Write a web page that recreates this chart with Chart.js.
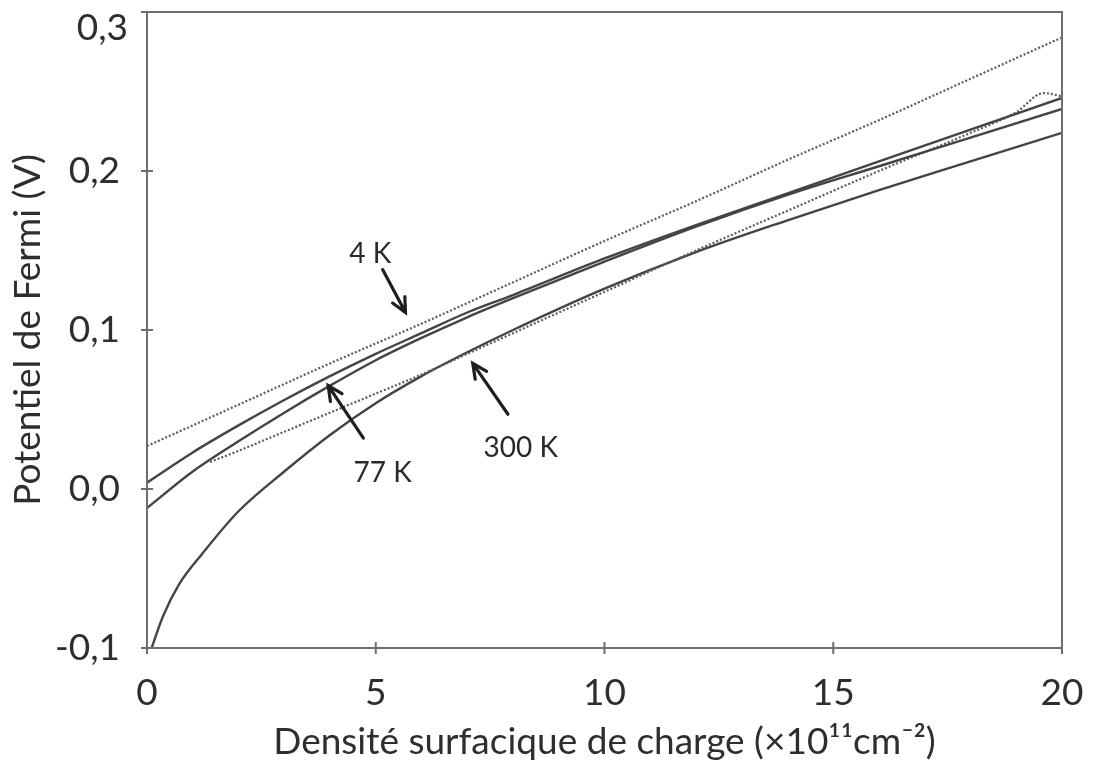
<!DOCTYPE html>
<html>
<head>
<meta charset="utf-8">
<title>Potentiel de Fermi</title>
<script src="https://cdn.jsdelivr.net/npm/chart.js@4/dist/chart.umd.min.js"></script>
<style>
  html, body { margin: 0; padding: 0; background: #fff; }
  #box { width: 1094px; height: 769px; }
</style>
</head>
<body>
<div id="box"><canvas id="fermi"></canvas></div>
<script>
// densité de charge (x10^11 cm-2) et potentiel de Fermi (V) pour chaque courbe
const xA = [0, 2, 4, 6, 8, 10, 12, 14, 16, 18, 20]
const yA = [0.027, 0.053, 0.079, 0.104, 0.130, 0.156, 0.181, 0.207, 0.232, 0.258, 0.284]

const xB = [0, 1, 2, 3, 4, 5, 6, 7, 8, 10, 12, 14, 16, 18, 20]
const yB = [0.004, 0.023, 0.040, 0.056, 0.071, 0.085, 0.098, 0.111, 0.122, 0.145, 0.166, 0.186, 0.206, 0.226, 0.246]

const xC = [0, 1, 2, 3, 4, 5, 6, 7, 8, 10, 12, 14, 16, 18, 20]
const yC = [-0.012, 0.011, 0.030, 0.048, 0.065, 0.081, 0.095, 0.108, 0.120, 0.143, 0.165, 0.185, 0.203, 0.221, 0.239]

const xD = [1.38, 2, 3, 4, 5, 6, 7, 8, 10, 12, 14, 16, 18, 19, 19.6, 20]
const yD = [0.017, 0.024, 0.036, 0.048, 0.060, 0.072, 0.085, 0.098, 0.124, 0.150, 0.175, 0.200, 0.224, 0.237, 0.249, 0.247]

const xE = [0.1, 0.35, 0.7, 1.2, 2, 3, 4, 5, 6, 7, 8, 10, 12, 14, 16, 18, 20]
const yE = [-0.1, -0.080, -0.060, -0.041, -0.014, 0.011, 0.034, 0.054, 0.071, 0.086, 0.100, 0.126, 0.149, 0.169, 0.188, 0.206, 0.224]

const xTicks = [0, 5, 10, 15, 20]
const yTicks = [-0.1, 0, 0.1, 0.2, 0.3]

// étiquettes des températures : texte, position du texte, queue et pointe de la flèche
const tempLabels = ['4 K', '77 K', '300 K']
const labelPos = [[4.88, 0.148], [5.15, 0.010], [8.17, 0.026]]
const arrowTail = [[5.15, 0.138], [4.73, 0.032], [7.89, 0.047]]
const arrowTip = [[5.65, 0.111], [3.96, 0.065], [7.12, 0.079]]

const pts = (xs, ys) => xs.map((x, i) => ({ x: x, y: ys[i] }))
const fmt = v => v.toFixed(1).replace('.', ',')

const FONT = 'Lato, "Open Sans", sans-serif'
const TEXT = '#2e2e2e'
const yMax = 0.3

const solid = (data) => ({
  data: data,
  borderColor: '#444',
  borderWidth: 2.4,
  pointRadius: 0,
  cubicInterpolationMode: 'monotone',
  fill: false
})
const dotted = (data) => ({
  data: data,
  borderColor: '#5c5c5c',
  borderWidth: 2.2,
  borderDash: [2, 2],
  pointRadius: 0,
  cubicInterpolationMode: 'monotone',
  fill: false
})

// cadre du graphique + graduations qui traversent les axes
const framePlugin = {
  id: 'frame',
  afterDatasetsDraw(chart) {
    const { ctx, chartArea: a, scales } = chart
    ctx.save()
    ctx.strokeStyle = '#6e6e6e'
    ctx.lineWidth = 2
    ctx.strokeRect(a.left, a.top, a.right - a.left, a.bottom - a.top)
    ctx.beginPath()
    xTicks.forEach(v => {
      const px = scales.x.getPixelForValue(v)
      ctx.moveTo(px, a.bottom - 6)
      ctx.lineTo(px, a.bottom + 6)
    })
    yTicks.forEach(v => {
      const py = scales.y.getPixelForValue(v)
      ctx.moveTo(a.left - 6, py)
      ctx.lineTo(a.left + 6, py)
    })
    ctx.stroke()

    // l'étiquette du haut est descendue pour rester dans le cadre
    ctx.fillStyle = TEXT
    ctx.font = '37px ' + FONT
    ctx.textAlign = 'right'
    ctx.textBaseline = 'middle'
    ctx.fillText(fmt(yMax), a.left - 19, scales.y.getPixelForValue(yMax) + 16)
    ctx.restore()
  }
}

// flèches et noms des températures
const arrowPlugin = {
  id: 'arrows',
  afterDatasetsDraw(chart) {
    const { ctx, scales } = chart
    const sx = v => scales.x.getPixelForValue(v)
    const sy = v => scales.y.getPixelForValue(v)
    ctx.save()
    ctx.strokeStyle = '#1e1e1e'
    ctx.fillStyle = '#2a2a2a'
    ctx.lineWidth = 3.2
    ctx.lineCap = 'round'
    for (let i = 0; i < tempLabels.length; i++) {
      const x0 = sx(arrowTail[i][0]), y0 = sy(arrowTail[i][1])
      const x1 = sx(arrowTip[i][0]), y1 = sy(arrowTip[i][1])
      const ang = Math.atan2(y1 - y0, x1 - x0)
      const head = 16
      ctx.beginPath()
      ctx.moveTo(x0, y0)
      ctx.lineTo(x1, y1)
      ctx.moveTo(x1 - head * Math.cos(ang - 0.45), y1 - head * Math.sin(ang - 0.45))
      ctx.lineTo(x1, y1)
      ctx.lineTo(x1 - head * Math.cos(ang + 0.45), y1 - head * Math.sin(ang + 0.45))
      ctx.stroke()

      ctx.font = '28px ' + FONT
      ctx.textAlign = 'center'
      ctx.textBaseline = 'middle'
      ctx.fillText(tempLabels[i], sx(labelPos[i][0]), sy(labelPos[i][1]))
    }
    ctx.restore()
  }
}

new Chart(document.getElementById('fermi'), {
  type: 'line',
  data: {
    datasets: [dotted(pts(xA, yA)), solid(pts(xB, yB)), solid(pts(xC, yC)), dotted(pts(xD, yD)), solid(pts(xE, yE))]
  },
  plugins: [framePlugin, arrowPlugin],
  options: {
    responsive: true,
    maintainAspectRatio: false,
    animation: false,
    layout: { padding: { left: 4, right: 32, top: 12, bottom: 5 } },
    plugins: { legend: { display: false }, tooltip: { enabled: false } },
    scales: {
      x: {
        type: 'linear',
        min: 0,
        max: 20,
        afterBuildTicks: s => { s.ticks = xTicks.map(v => ({ value: v })) },
        afterFit: s => { s.height = 116; s.paddingLeft = 0; s.paddingRight = 0 },
        grid: { display: false },
        border: { display: false },
        ticks: { color: TEXT, padding: 15, font: { family: FONT, size: 37 } },
        title: {
          display: true,
          text: 'Densité surfacique de charge (×10¹¹cm⁻²)',
          color: TEXT,
          padding: { top: 0, bottom: 0 },
          font: { family: FONT, size: 37 }
        }
      },
      y: {
        type: 'linear',
        min: -0.1,
        max: yMax,
        afterBuildTicks: s => { s.ticks = yTicks.map(v => ({ value: v })) },
        afterFit: s => { s.width = 143; s.paddingTop = 0; s.paddingBottom = 0 },
        grid: { display: false },
        border: { display: false },
        ticks: {
          color: TEXT,
          padding: 19,
          font: { family: FONT, size: 37 },
          callback: v => (v === yMax ? '' : fmt(v))
        },
        title: {
          display: true,
          text: 'Potentiel de Fermi (V)',
          color: TEXT,
          padding: { top: 2, bottom: 0 },
          font: { family: FONT, size: 37 }
        }
      }
    }
  }
})
</script>
</body>
</html>
